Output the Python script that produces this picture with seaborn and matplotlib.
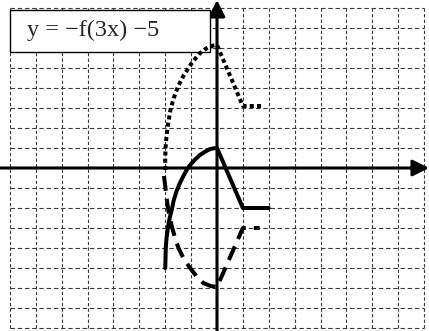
import numpy as np
import matplotlib
matplotlib.use("Agg")
import matplotlib.pyplot as plt
import seaborn as sns
from matplotlib.patches import Rectangle

# curve points (grid units)
solid_x = [-2.0, -1.99, -1.98, -1.95, -1.9, -1.83, -1.75, -1.67, -1.56, -1.45,
           -1.3, -1.17, -1.04, -0.85, -0.66, -0.48, -0.3, -0.15, 0.0, 1.0, 2.0]
solid_y = [-5.0, -4.5, -4.0, -3.5, -3.0, -2.5, -2.1, -1.6, -1.15, -0.8,
           -0.4, -0.1, 0.15, 0.42, 0.65, 0.8, 0.93, 0.98, 1.0, -2.0, -2.0]

dotted_x = [-2.0, -2.0, -1.99, -1.95, -1.89, -1.8, -1.67, -1.5, -1.3, -1.0,
            -0.82, -0.65, -0.45, -0.3, -0.15, 0.0, 1.0, 1.8]
dotted_y = [-0.1, 0.5, 1.0, 1.6, 2.2, 2.9, 3.5, 4.1, 4.6, 5.2,
            5.5, 5.75, 5.95, 6.05, 6.12, 6.15, 3.1, 3.1]

dashed_x = [-2.05, -2.0, -1.95, -1.87, -1.75, -1.62, -1.49, -1.3, -1.04, -0.8,
            -0.53, -0.25, 0.0, 1.0, 1.65]
dashed_y = [-0.4, -0.9, -1.5, -2.2, -2.9, -3.5, -4.0, -4.5, -5.0, -5.4,
            -5.75, -5.9, -5.95, -3.0, -3.0]

label = "y = \u2212f(3x) \u22125"
grid_lo, grid_hi = -8, 8

sns.set_style("white")
plt.rcParams['font.family'] = ['Liberation Serif', 'DejaVu Serif']

fig = plt.figure(figsize=(4.29, 3.31), dpi=100)
ax = fig.add_axes([0, 0, 1, 1])
xl, xr = -8.386, 8.193
yb, yt = -8.15, 8.4
ax.set_xlim(xl, xr)
ax.set_ylim(yb, yt)
ax.axis("off")

# dashed grid, bounded
ticks = np.arange(grid_lo, grid_hi + 1)
ax.hlines(ticks, grid_lo, grid_hi, colors="#3a3a3a", linewidth=0.8,
          linestyles=(0, (4, 2.5)), zorder=1)
ax.vlines(ticks, grid_lo, grid_hi, colors="#3a3a3a", linewidth=0.8,
          linestyles=(0, (3, 2)), zorder=1)

# axes with arrows
arrow = dict(arrowstyle="-|>,head_length=0.7,head_width=0.35", lw=2.2,
             color="black", shrinkA=0, shrinkB=0, mutation_scale=14)
ax.annotate("", xy=(xr, 0), xytext=(xl, 0), arrowprops=arrow, zorder=3,
            annotation_clip=False)
ax.annotate("", xy=(0, yt), xytext=(0, yb), arrowprops=arrow, zorder=3,
            annotation_clip=False)

# label box
ax.add_patch(Rectangle((-8.0, 5.8), 7.73, 2.1, facecolor="white",
                       edgecolor="black", lw=1.0, zorder=4))
ax.text(-7.34, 6.62, label, fontsize=17.5, va="baseline", ha="left", zorder=5)

# curves
sns.lineplot(x=solid_x, y=solid_y, sort=False, estimator=None, ax=ax,
             color="black", lw=2.9, zorder=6)
sns.lineplot(x=dotted_x, y=dotted_y, sort=False, estimator=None, ax=ax,
             color="black", lw=2.9, linestyle=(0, (1, 0.8)), zorder=6)
sns.lineplot(x=dashed_x, y=dashed_y, sort=False, estimator=None, ax=ax,
             color="black", lw=2.9, linestyle=(0, (3.7, 2)), zorder=6)

fig.savefig("out.png", dpi=100)
